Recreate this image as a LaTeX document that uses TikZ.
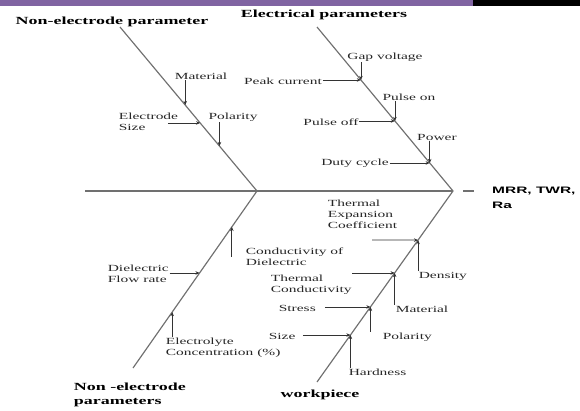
\documentclass[tikz,border=0pt]{standalone}
\usepackage{fontspec}
\setmainfont{Liberation Serif}[FakeStretch=1.65]
\newfontfamily\effectfont{Liberation Sans}[FakeStretch=1.65]
\usepackage{tikz}
\usetikzlibrary{arrows.meta,calc}
\definecolor{barpurple}{HTML}{8064A2}
\definecolor{bonegray}{HTML}{707070}
\tikzset{
  bone/.style={bonegray, line width=1pt},
  cause/.style={-{Stealth[length=3.5pt,width=3pt]}, black!80, line width=0.6pt},
  causetext/.style={inner sep=0.5pt, text=black!85, font=\fontsize{8}{9.4}\selectfont},
  headtext/.style={inner sep=0.5pt, font=\bfseries\fontsize{9.3}{12}\selectfont},
}

\begin{document}
\begin{tikzpicture}[x=0.03cm, y=-0.03cm]
    \useasboundingbox (0,0) rectangle (580,410);
    \fill[barpurple] (0,0) rectangle (473,6);
    \fill[black] (473,0) rectangle (580,6);

    % spine and bones
    \coordinate (tail) at (85,191);
    \coordinate (jl) at (257,191);
    \coordinate (head) at (453,191);
    \coordinate (ulT) at (120,27);
    \coordinate (llB) at (133,368);
    \coordinate (urT) at (317,27);
    \coordinate (lrB) at (317,382);
    \draw[bone] (tail) -- (head);
    \draw[bone] (ulT) -- (jl) -- (llB);
    \draw[bone] (urT) -- (head) -- (lrB);

    % effect
    \coordinate (dashA) at (463,191);
    \coordinate (dashB) at (474,191);
    \draw[bone] (dashA) -- (dashB);
    \node[anchor=west, align=left, inner sep=0pt, font=\effectfont\bfseries\fontsize{8}{13}\selectfont] (effect) at (492,198) {MRR, TWR,\\Ra};

    % points on the bones
    \coordinate (ul1) at ($(ulT)!0.476!(jl)$);
    \coordinate (ul2) at ($(ulT)!0.585!(jl)$);
    \coordinate (ul3) at ($(ulT)!0.726!(jl)$);
    \coordinate (ur1) at ($(urT)!0.323!(head)$);
    \coordinate (ur2) at ($(urT)!0.573!(head)$);
    \coordinate (ur3) at ($(urT)!0.829!(head)$);
    \coordinate (ll1) at ($(jl)!0.203!(llB)$);
    \coordinate (ll2) at ($(jl)!0.463!(llB)$);
    \coordinate (ll3) at ($(jl)!0.684!(llB)$);
    \coordinate (lr1) at ($(head)!0.257!(lrB)$);
    \coordinate (lr2) at ($(head)!0.429!(lrB)$);
    \coordinate (lr3) at ($(head)!0.607!(lrB)$);
    \coordinate (lr4) at ($(head)!0.754!(lrB)$);

    % headings
    \node[headtext] (nonel) at (112,22) {Non-electrode parameter};
    \node[headtext] (elecp) at (324,15) {Electrical parameters};
    \node[headtext, anchor=west, align=left] (nonel2) at (73,395) {Non -electrode\\parameters};
    \node[headtext] (wpiece) at (320,395) {workpiece};

    % upper left
    \node[causetext] (matl) at (201,76) {Material};
    \node[causetext, anchor=west, align=left] (esize) at (118,122) {Electrode\\Size};
    \node[causetext] (pol) at (233,117) {Polarity};
    \draw[cause] (matl.south -| ul1) -- (ul1);
    \draw[cause] ([xshift=-3.3mm]esize.east |- ul2) -- (ul2);
    \draw[cause] (pol.south -| ul3) -- (ul3);

    % upper right
    \node[causetext] (gapv) at (385,57) {Gap voltage};
    \node[causetext] (peak) at (283,81) {Peak current};
    \node[causetext] (pon) at (409,97) {Pulse on};
    \node[causetext] (poff) at (331,122) {Pulse off};
    \node[causetext] (power) at (437,137) {Power};
    \node[causetext] (duty) at (355,163) {Duty cycle};
    \draw[cause] (gapv.south -| ur1) -- (ur1);
    \draw[cause] (peak.east |- ur1) -- (ur1);
    \draw[cause] (pon.south -| ur2) -- (ur2);
    \draw[cause] (poff.east |- ur2) -- (ur2);
    \draw[cause] (power.south -| ur3) -- (ur3);
    \draw[cause] (duty.east |- ur3) -- (ur3);

    % lower left
    \node[causetext, anchor=north west, align=left] (cond) at (245,247) {Conductivity of\\Dielectric};
    \node[causetext, anchor=west, align=left] (dfr) at (107,274) {Dielectric\\Flow rate};
    \node[causetext, anchor=north west, align=left] (elyte) at (165,337) {Electrolyte\\Concentration (\%)};
    \draw[cause] (cond.west -| ll1) -- (ll1);
    \draw[cause] (dfr.east |- ll2) -- (ll2);
    \draw[cause] (elyte.north -| ll3) -- (ll3);

    % lower right
    \node[causetext, anchor=north west, align=left] (tec) at (327,199) {Thermal\\Expansion\\Coefficient};
    \node[causetext, anchor=west] (dens) at (418,276) {Density};
    \node[causetext, anchor=north west, align=left] (tcond) at (270,274) {Thermal\\Conductivity};
    \node[causetext, anchor=west] (matw) at (395,309) {Material};
    \node[causetext, anchor=west] (stress) at (278,308) {Stress};
    \node[causetext, anchor=west] (polw) at (382,337) {Polarity};
    \node[causetext, anchor=west] (size) at (268,336) {Size};
    \node[causetext, anchor=west] (hard) at (348,372) {Hardness};
    \coordinate (tecT) at (372,240);
    \draw[cause] (tecT) -- (lr1);
    \draw[cause] (dens.north -| lr1) -- (lr1);
    \draw[cause] (tcond.north east |- lr2) -- (lr2);
    \draw[cause] (matw.north -| lr2) -- (lr2);
    \draw[cause] ([xshift=2.5mm]stress.east |- lr3) -- (lr3);
    \draw[cause] (polw.north -| lr3) -- (lr3);
    \draw[cause] ([xshift=2mm]size.east |- lr4) -- (lr4);
    \draw[cause] (hard.north -| lr4) -- (lr4);
  \end{tikzpicture}
\end{document}
